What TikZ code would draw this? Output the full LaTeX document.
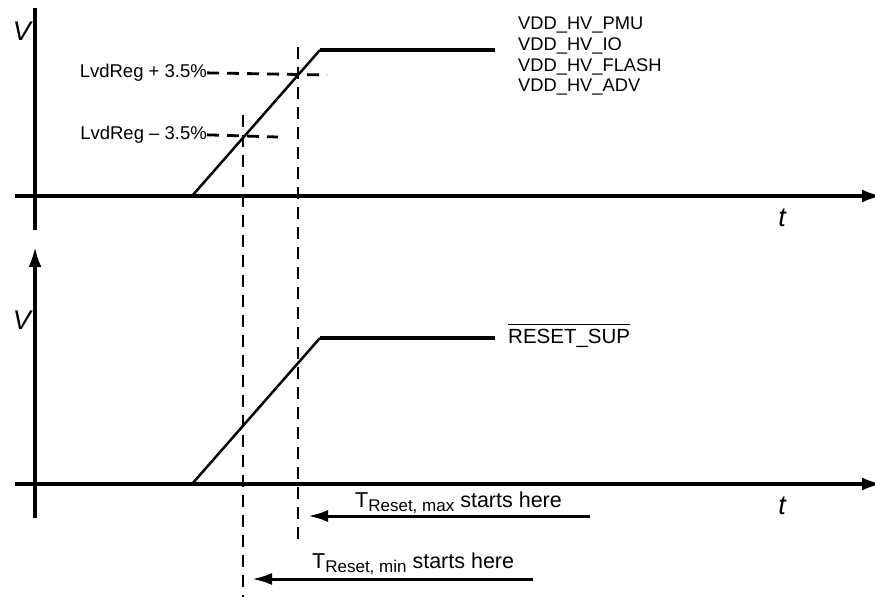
\documentclass[tikz,border=0pt]{standalone}
\usepackage{fontspec}
\setmainfont{Liberation Sans}
\usetikzlibrary{arrows.meta}

\begin{document}
\begin{tikzpicture}[x=1pt,y=-1pt]
				\tikzstyle{axis}=[line width=3.3pt,-{Latex[length=20pt,width=13pt]}]
				\tikzstyle{plainaxis}=[line width=3.3pt]
				\tikzstyle{signal}=[line width=4.2pt]
				\tikzstyle{ramp}=[line width=2.5pt]
				\tikzstyle{marker}=[line width=2.8pt,dash pattern=on 12pt off 8pt]
				\tikzstyle{level}=[inner sep=0pt,anchor=mid east,font=\fontsize{18.5}{20.5}\selectfont]
				\tikzstyle{axislabel}=[inner sep=0pt,font=\fontsize{27}{27}\selectfont\itshape]
				\tikzstyle{startlabel}=[inner sep=0pt,anchor=base west,font=\fontsize{21.5}{24}\selectfont]
				\tikzstyle{startarrow}=[line width=3pt,{Latex[length=20pt,width=12pt]}-]
				\useasboundingbox (0,0) rectangle (875,597);
				% supply rails
				\coordinate (vtop) at (35,8);
				\coordinate (vbot) at (35,230);
				\coordinate (tstart) at (15,196);
				\coordinate (tend) at (882,196);
				\coordinate (rise) at (192,196);
				\coordinate (high) at (320,50);
				\coordinate (highend) at (495,50);
				\draw[plainaxis] (vtop) -- (vbot);
				\draw[axis] (tstart) -- (tend);
				\draw[signal] (tstart) -- (rise);
				\draw[ramp] (rise) -- (high);
				\draw[signal] (high) -- (highend);
				\node[axislabel] (vlabel) at (22,31) {V};
				\node[axislabel] (tlabel) at (782,218) {t};
				\node[inner sep=0pt,anchor=north west,align=left,
					font=\fontsize{18.3}{20.7}\selectfont] (rails) at (518,17)
					{VDD\_HV\_PMU\\VDD\_HV\_IO\\VDD\_HV\_FLASH\\VDD\_HV\_ADV};
				\node[level] (lvdhi) at (207,75) {LvdReg + 3.5\%};
				\node[level] (lvdlo) at (207,137) {LvdReg -- 3.5\%};
				\coordinate (hiend) at (327,75);
				\coordinate (loend) at (278,137);
				\draw[marker] (lvdhi.east) -- (hiend);
				\draw[marker] (lvdlo.east) -- (loend);
				% reset output
				\coordinate (rtop) at (35,247);
				\coordinate (rbot) at (35,518);
				\coordinate (rstart) at (15,484);
				\coordinate (rend) at (882,484);
				\coordinate (rrise) at (192,484);
				\coordinate (rhigh) at (320,338);
				\coordinate (rhighend) at (495,338);
				\draw[axis] (rbot) -- (rtop);
				\draw[axis] (rstart) -- (rend);
				\draw[signal] (rstart) -- (rrise);
				\draw[ramp] (rrise) -- (rhigh);
				\draw[signal] (rhigh) -- (rhighend);
				\node[axislabel] (rvlabel) at (22,320) {V};
				\node[axislabel] (rtlabel) at (782,506) {t};
				\node[inner sep=0pt,anchor=base west,
					font=\fontsize{20.5}{22}\selectfont] (resetsup) at (508,343) {RESET\_SUP};
				\draw[line width=1.6pt] ([yshift=4pt]resetsup.north west) -- ([yshift=4pt]resetsup.north east);
				% thresholds
				\coordinate (maxtop) at (298,47);
				\coordinate (maxbot) at (298,545);
				\coordinate (mintop) at (243,115);
				\coordinate (minbot) at (243,597);
				\draw[marker] (maxtop) -- (maxbot);
				\draw[marker] (mintop) -- (minbot);
				\coordinate (maxtip) at (308,516);
				\coordinate (maxtail) at (590,516);
				\coordinate (mintip) at (252,579);
				\coordinate (mintail) at (533,579);
				\draw[startarrow] (maxtip) -- (maxtail);
				\draw[startarrow] (mintip) -- (mintail);
				\node[startlabel] (maxlabel) at (355,507)
					{T\raisebox{-4pt}{\fontsize{17}{17}\selectfont Reset, max} starts here};
				\node[startlabel] (minlabel) at (312,568)
					{T\raisebox{-4pt}{\fontsize{17}{17}\selectfont Reset, min} starts here};
\end{tikzpicture}
\end{document}
